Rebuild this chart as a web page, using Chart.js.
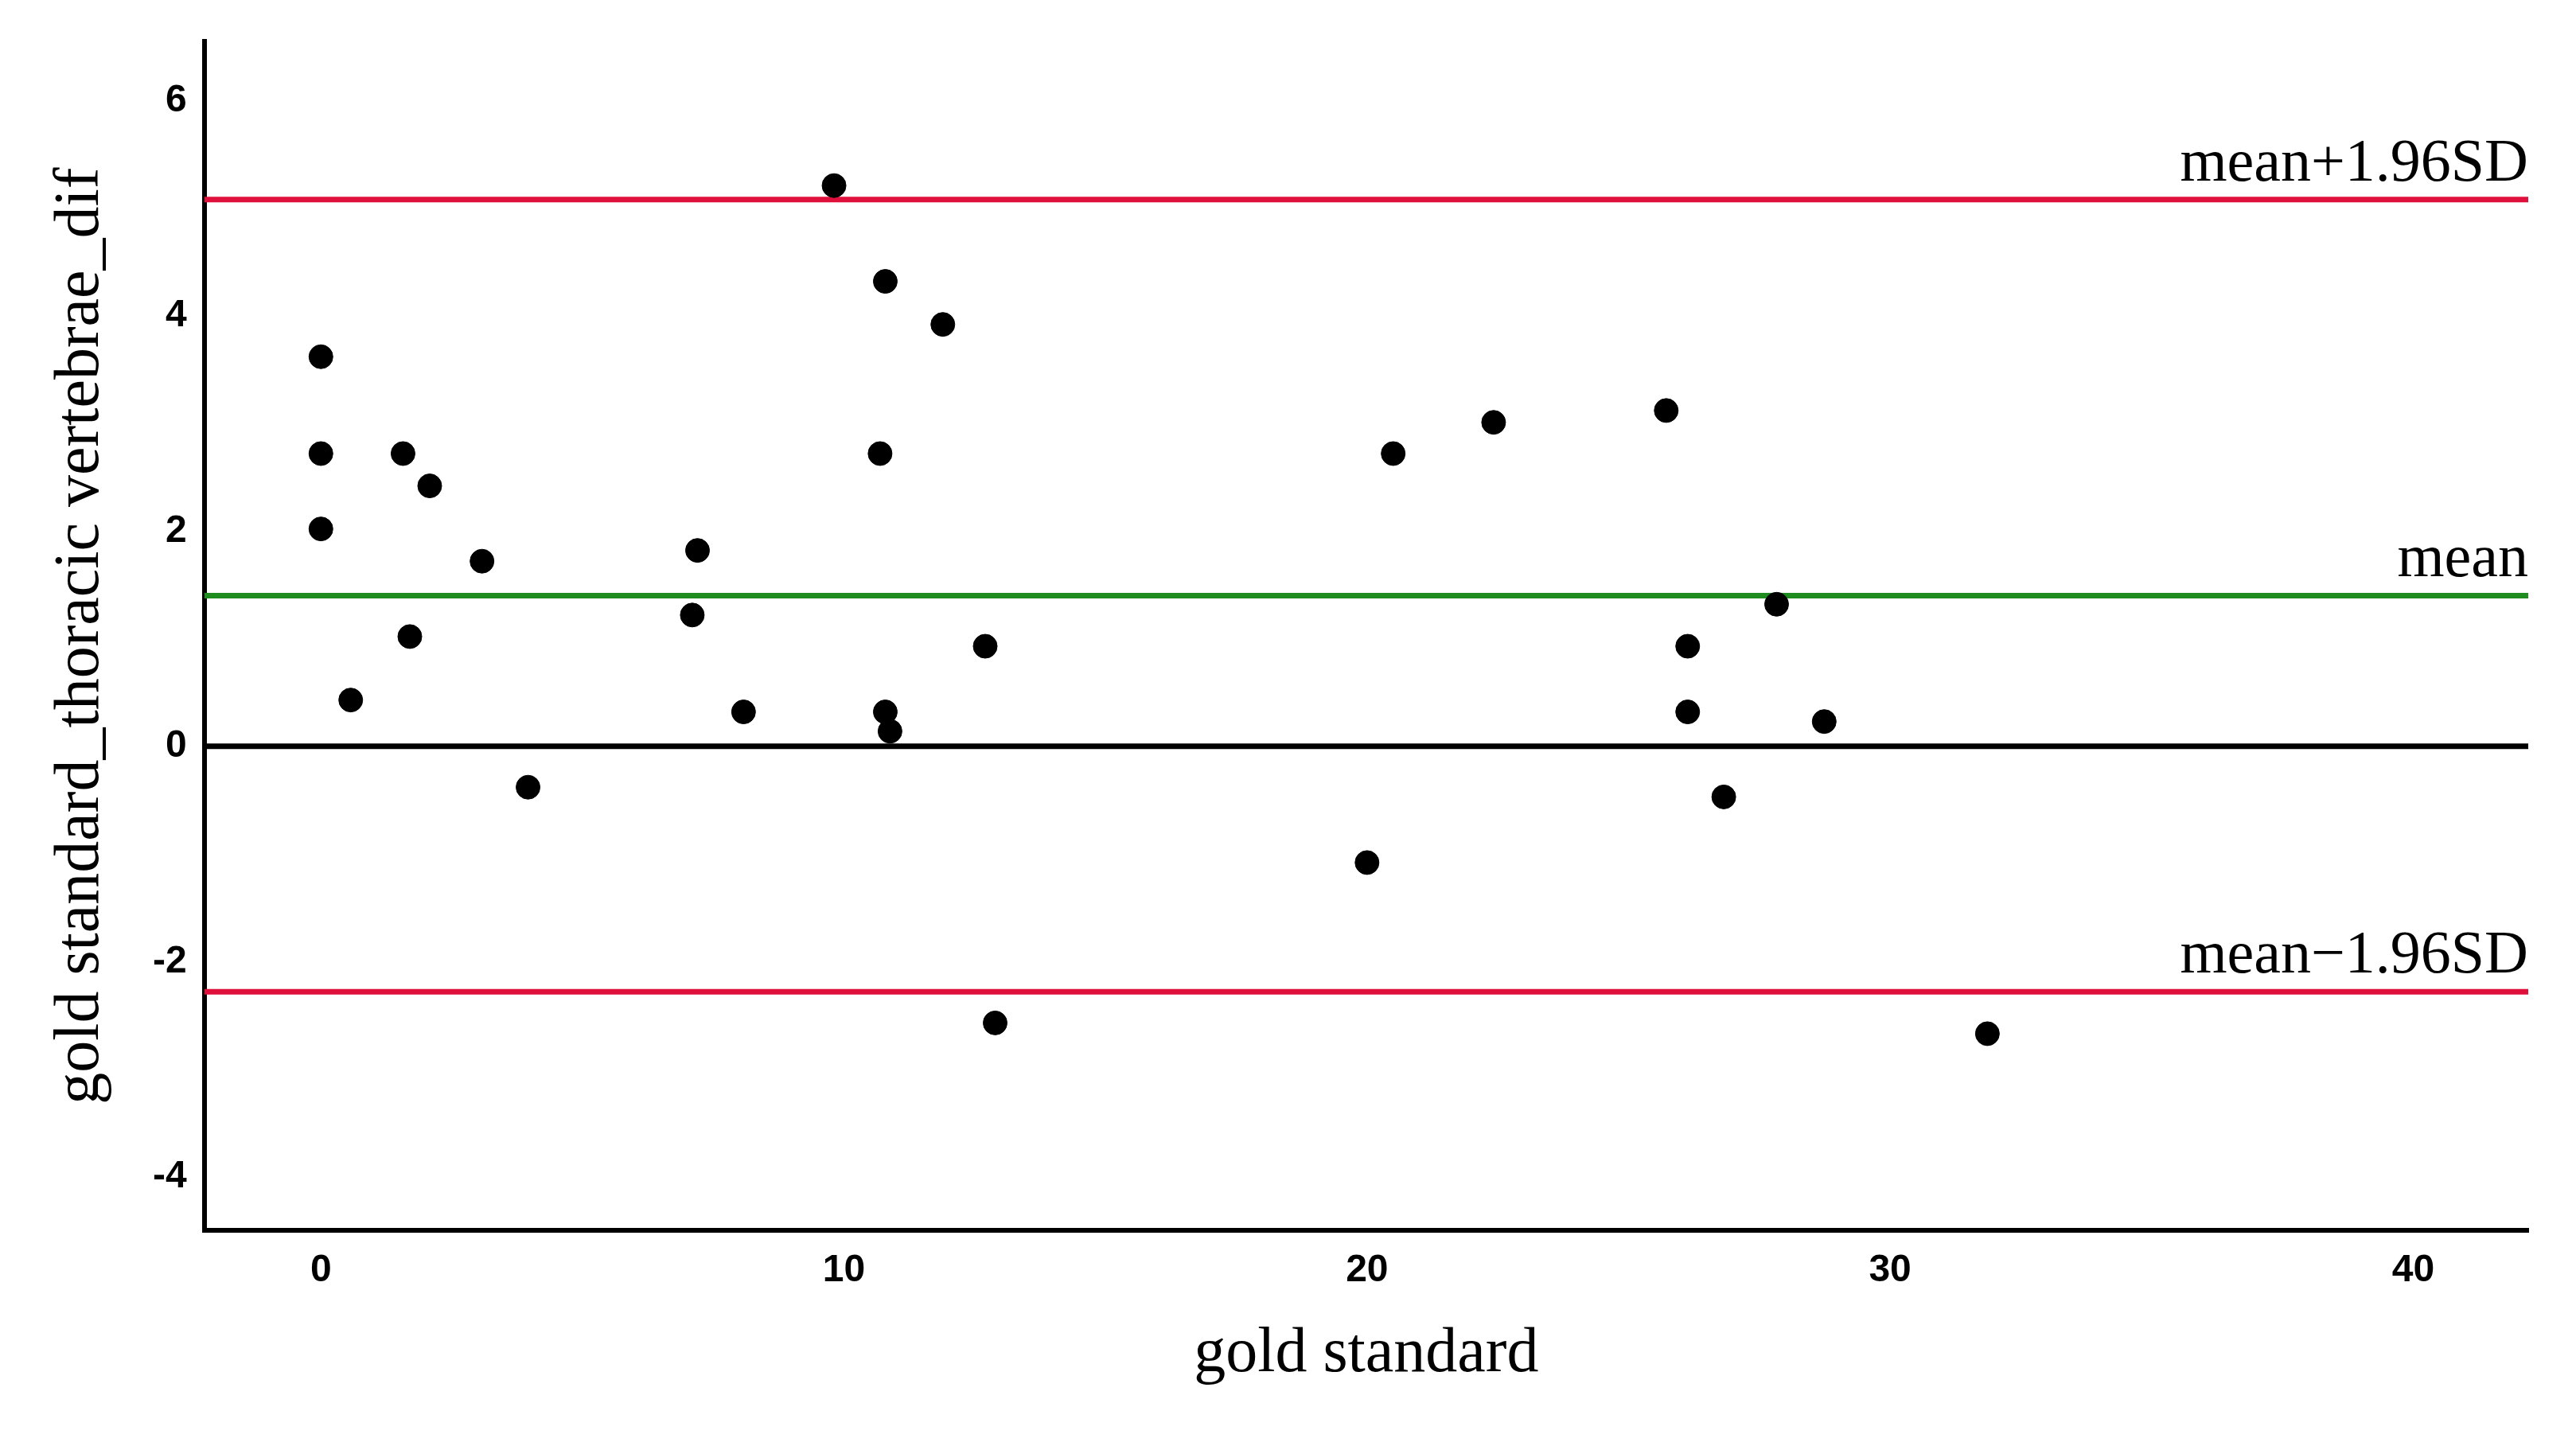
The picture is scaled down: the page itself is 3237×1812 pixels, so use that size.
<!DOCTYPE html>
<html><head><meta charset="utf-8">
<script src="https://cdn.jsdelivr.net/npm/chart.js@4/dist/chart.umd.min.js"></script>
<style>html,body{margin:0;background:#fff}#w{width:3237px;height:1812px}</style></head>
<body><div id="w"><canvas id="c"></canvas></div>
<script>
const xVals=[0,0,0,0.57,1.57,1.7,2.08,3.08,3.96,7.1,7.2,8.08,9.81,10.79,10.69,10.79,10.88,11.89,12.7,12.89,20.0,20.5,22.42,25.72,26.13,26.13,26.82,27.83,28.74,31.86];
const yVals=[3.62,2.72,2.02,0.43,2.72,1.02,2.42,1.72,-0.38,1.22,1.82,0.32,5.21,4.32,2.72,0.32,0.14,3.92,0.93,-2.57,-1.08,2.72,3.01,3.12,0.93,0.32,-0.47,1.32,0.23,-2.67];
const xTicks=[0,10,20,30,40];
const yTicks=[-4,-2,0,2,4,6];
const refLines=[{label:'mean+1.96SD',y:5.08,color:'#e0103c'},{label:'mean',y:1.40,color:'#1e8c1e'},{label:'mean\u22121.96SD',y:-2.28,color:'#e0103c'},{label:'',y:0,color:'#000'}];
const xMin=-2.23,xMax=42.2,yMin=-4.5,yMax=6.55;
const ds=refLines.map(r=>({type:'line',data:[{x:xMin,y:r.y},{x:xMax,y:r.y}],borderColor:r.color,borderWidth:7,pointRadius:0,order:2}));
ds.push({type:'scatter',data:xVals.map((x,i)=>({x,y:yVals[i]})),backgroundColor:'#000',borderColor:'#000',pointRadius:15,order:1});
const labelPlugin={id:'lbl',afterDatasetsDraw(ch){const c=ch.ctx;c.save();c.font='76px "Liberation Serif"';c.fillStyle='#000';c.textAlign='right';c.textBaseline='bottom';
refLines.forEach(r=>{if(r.label)c.fillText(r.label,ch.chartArea.right,ch.scales.y.getPixelForValue(r.y)-6);});c.restore();}};
new Chart(document.getElementById('c'),{type:'scatter',data:{datasets:ds},plugins:[labelPlugin],
options:{responsive:true,maintainAspectRatio:false,animation:false,
layout:{padding:{top:52,right:60,left:50,bottom:58}},
plugins:{legend:{display:false},tooltip:{enabled:false}},
scales:{
x:{type:'linear',min:xMin,max:xMax,afterBuildTicks:s=>{s.ticks=xTicks.map(v=>({value:v}));},
grid:{display:false,drawTicks:false},border:{color:'#000',width:6},
ticks:{color:'#000',font:{family:'Liberation Sans',size:48,weight:'bold'},padding:22},
title:{display:true,text:'gold standard',color:'#000',font:{family:'Liberation Serif',size:80},padding:{top:6}}},
y:{type:'linear',min:yMin,max:yMax,afterBuildTicks:s=>{s.ticks=yTicks.map(v=>({value:v}));},
grid:{display:false,drawTicks:false},border:{color:'#000',width:6},
ticks:{color:'#000',font:{family:'Liberation Sans',size:48,weight:'bold'},padding:22},
title:{display:true,text:'gold standard_thoracic vertebrae_dif',color:'#000',font:{family:'Liberation Serif',size:80},padding:{bottom:20}}}}}});
</script></body></html>
